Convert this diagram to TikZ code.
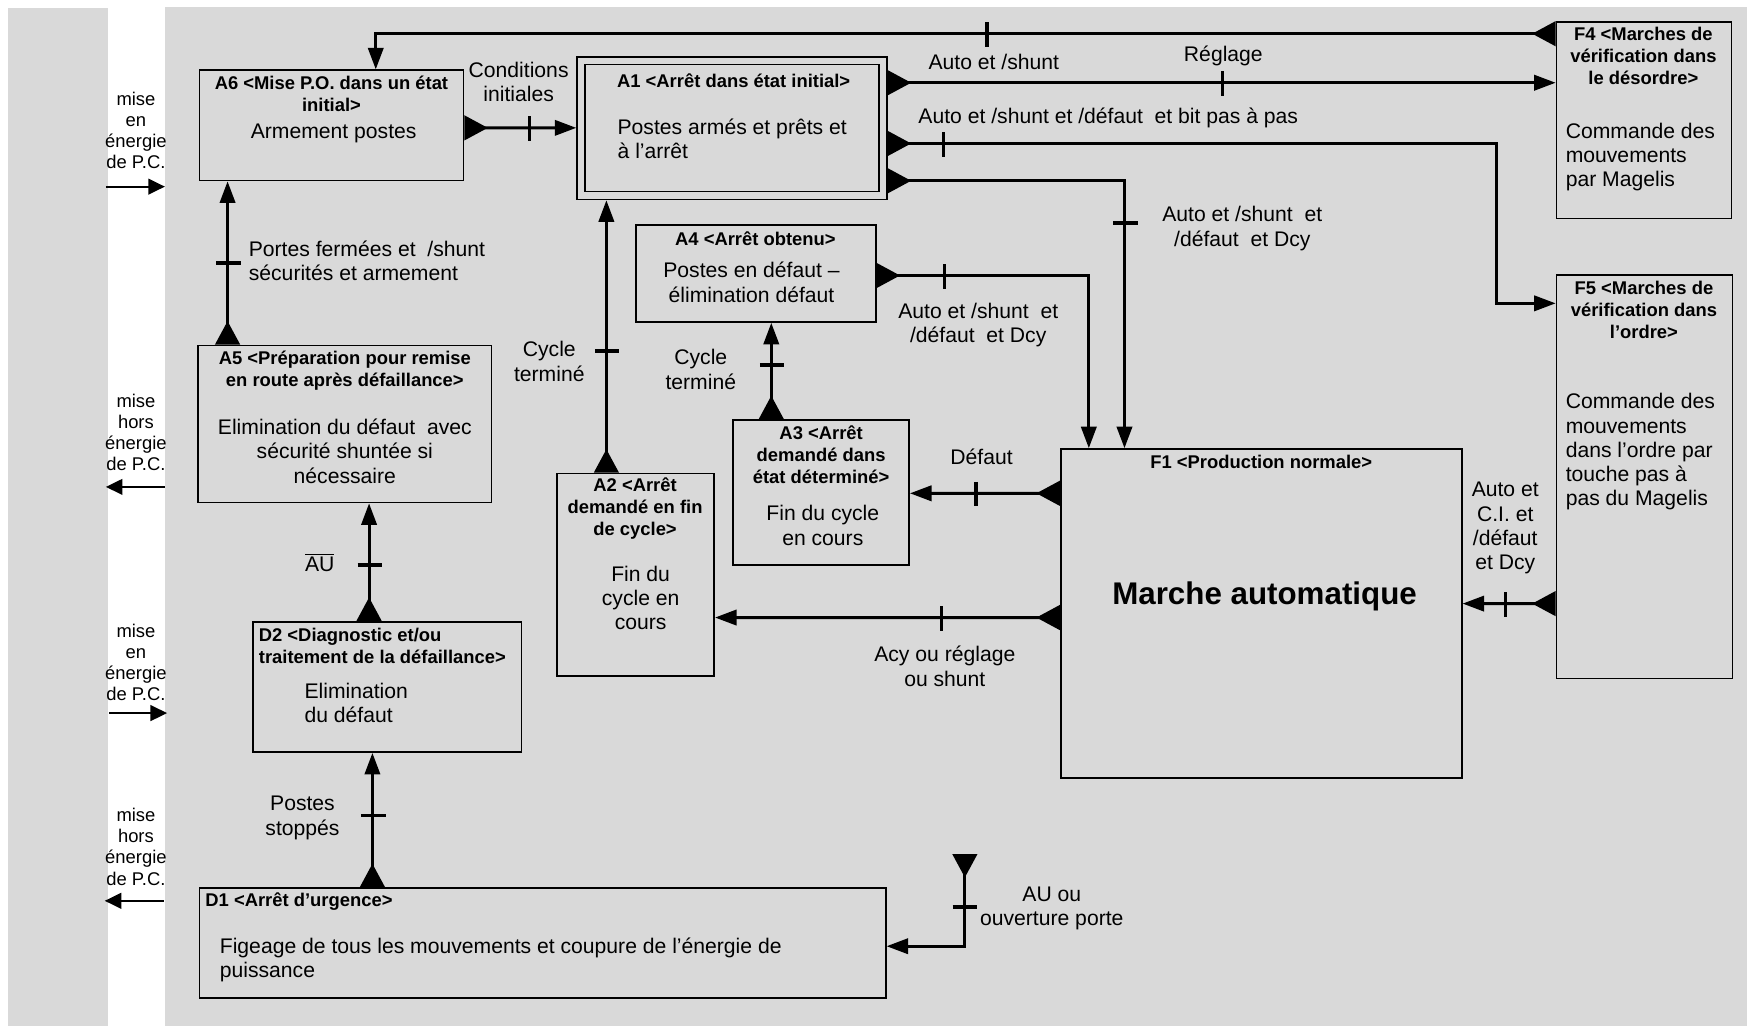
\documentclass[tikz,border=0pt]{standalone}
\usepackage{fontspec}
\setmainfont{Liberation Sans}
\usetikzlibrary{arrows.meta,calc,fit}
\definecolor{fond}{RGB}{217,217,217}
\newcommand{\trh}[1]{\foreach \x/\y in {#1} \draw[tiret] (\x,\y-11) -- (\x,\y+11);}
\newcommand{\trv}[1]{\foreach \x/\y in {#1} \draw[tiret] (\x-11,\y) -- (\x+11,\y);}

\begin{document}
\begin{tikzpicture}[x=0.02cm, y=-0.02cm,
  boite/.style={draw, line width=0.85pt, inner sep=0pt},
  titre/.style={font=\bfseries\fontsize{9.4}{11.3}\selectfont, align=center, inner sep=0pt},
  texte/.style={font=\fontsize{10.8}{12.4}\selectfont, align=center, inner sep=0pt},
  note/.style={font=\fontsize{9.4}{10.8}\selectfont, align=center, inner sep=0pt},
  lien/.style={line width=1.5pt, {Triangle[reversed,length=12pt,width=12.5pt]}-{Triangle[length=11pt,width=7.8pt]}},
  tiret/.style={line width=1.7pt},
  fleche/.style={line width=1.1pt, -{Triangle[length=8.5pt,width=8pt]}}]
  \useasboundingbox (0,0) rectangle (1568,921);
  \fill[fond] (7,7) rectangle (97,921);
  \fill[fond] (148,6) rectangle (1568,921);

  % etats
  \node[boite, fit={(179,63) (416,162)}]   (A6) {};
  \node[boite, fit={(518,51) (796,179)}]   (A1) {};
  \node[boite, fit={(525,58) (789,172)}]   (A1i) {};
  \node[boite, fit={(1397,20) (1554,196)}] (F4) {};
  \node[boite, fit={(1397,247) (1555,609)}] (F5) {};
  \node[boite, fit={(571,202) (786,289)}]  (A4) {};
  \node[boite, fit={(178,310) (441,451)}]  (A5) {};
  \node[boite, fit={(658,377) (816,507)}]  (A3) {};
  \node[boite, fit={(500,425) (641,607)}]  (A2) {};
  \node[boite, fit={(952,403) (1312,698)}] (F1) {};
  \node[boite, fit={(227,558) (468,675)}]  (D2) {};
  \node[boite, fit={(179,797) (795,896)}]  (D1) {};

  \node[titre] at (297.5,84) {A6 <Mise P.O. dans un état\\initial>};
  \node[texte] at (299.5,119.5) {Armement postes};
  \node[titre] at (658.5,72) {A1 <Arrêt dans état initial>};
  \node[texte, anchor=west, align=left] at (554,124.5) {Postes armés et prêts et\\à l’arrêt};
  \node[titre] at (1475,50.5) {F4 <Marches de\\vérification dans\\le désordre>};
  \node[texte, anchor=west, align=left] at (1405,141) {Commande des\\mouvements\\par Magelis};
  \node[titre] at (1475.5,278) {F5 <Marches de\\vérification dans\\l’ordre>};
  \node[texte, anchor=west, align=left] at (1405,405.5) {Commande des\\mouvements\\dans l’ordre par\\touche pas à\\pas du Magelis};
  \node[titre] at (678,214) {A4 <Arrêt obtenu>};
  \node[texte] at (674.5,253.5) {Postes en défaut –\\élimination défaut};
  \node[titre] at (309.5,332.5) {A5 <Préparation pour remise\\en route après défaillance>};
  \node[texte] at (309.5,405) {Elimination du défaut~ avec\\sécurité shuntée si\\nécessaire};
  \node[titre] at (737,408) {A3 <Arrêt\\demandé dans\\état déterminé>};
  \node[texte] at (738.5,471.5) {Fin du cycle\\en cours};
  \node[titre] at (570,456.5) {A2 <Arrêt\\demandé en fin\\de cycle>};
  \node[texte] at (575,536.5) {Fin du\\cycle en\\cours};
  \node[titre] at (1132,415) {F1 <Production normale>};
  \node[font=\bfseries\fontsize{16}{19}\selectfont, inner sep=0pt] at (1135,535) {Marche automatique};
  \node[titre, anchor=west, align=left] at (232,579.5) {D2 <Diagnostic et/ou\\traitement de la défaillance>};
  \node[texte, anchor=west, align=left] at (273,631) {Elimination\\du défaut};
  \node[titre, anchor=west] at (184,809) {D1 <Arrêt d’urgence>};
  \node[texte, anchor=west, align=left] at (197,861.5) {Figeage de tous les mouvements et coupure de l’énergie de\\puissance};

  % evolutions
  \draw[lien] ($(F4.north west)+(0,11)$) -| ($(A6.north west)+(159,0)$);
  \draw[lien] ($(A1.north east)+(0,24)$) -- ($(F4.north west)+(0,55)$);
  \draw[lien] ($(A1.north east)+(0,78.5)$) -| ($(F5.north west)+(-53,26)$) -- ($(F5.north west)+(0,26)$);
  \draw[lien] ($(A1.north east)+(0,112)$) -| ($(F1.north west)+(58,0)$);
  \draw[lien] ($(A4.north east)+(0,46)$) -| ($(F1.north west)+(26,0)$);
  \draw[lien] ($(F1.north west)+(0,40.5)$) -- ($(A3.north east)+(0,66.5)$);
  \draw[lien] ($(F1.north west)+(0,152)$) -- ($(A2.north east)+(0,130)$);
  \draw[lien] ($(A2.north west)+(45,0)$) -- ($(A1.south west)+(27,0)$);
  \draw[lien] ($(A3.north west)+(35,0)$) -- ($(A4.south west)+(122,0)$);
  \draw[lien] ($(A6.north east)+(0,52.5)$) -- ($(A1.north west)+(0,64.5)$);
  \draw[lien] ($(A5.north west)+(27,0)$) -- ($(A6.south west)+(26,0)$);
  \draw[lien] ($(D2.north west)+(105,0)$) -- ($(A5.south west)+(154,0)$);
  \draw[lien] ($(D1.north west)+(156,0)$) -- ($(D2.south west)+(108,0)$);
  \draw[lien] ($(F5.north west)+(0,295.5)$) -- ($(F1.north east)+(0,139.5)$);
  \coordinate (AU) at (866,766.5);
  \draw[lien] (AU) |- ($(D1.north east)+(0,53)$);

  \trh{886/31, 1097/75, 847/129.5, 848/248, 876/443.5, 845/555, 475/115.5, 1351/542.5}
  \trv{1010/200, 545/315, 693/327.5, 205/236, 332/507, 335/732, 866/814}

  % receptivites
  \node[texte] at (892,55.5) {Auto et /shunt};
  \node[texte] at (1098,50) {Réglage};
  \node[texte, anchor=west] at (824,106) {Auto et /shunt et /défaut~ et bit pas à pas};
  \node[texte] at (1115,205) {Auto et /shunt~ et\\/défaut~ et Dcy};
  \node[texte] at (878,291.5) {Auto et /shunt~ et\\/défaut~ et Dcy};
  \node[texte] at (881,410) {Défaut};
  \node[texte] at (848,598) {Acy ou réglage\\ou shunt};
  \node[texte] at (493,324.5) {Cycle\\terminé};
  \node[texte] at (629,331.5) {Cycle\\terminé};
  \node[texte] at (465.5,73.3) {Conditions\\initiales};
  \node[texte, anchor=west, align=left] at (223,233.8) {Portes fermées et~ /shunt\\sécurités et armement};
  \node[texte] at (287,505) {$\overline{\mbox{AU}}$};
  \node[texte] at (271.5,734) {Postes\\stoppés};
  \node[texte] at (1351,474) {Auto et\\C.I. et\\/défaut\\et Dcy};
  \node[texte] at (944,815) {AU ou\\ouverture porte};

  % alimentation P.C.
  \node[note] (n1) at (122,117.3) {mise\\en\\énergie\\de P.C.};
  \node[note] (n2) at (122,388) {mise\\hors\\énergie\\de P.C.};
  \node[note] (n3) at (122,594.6) {mise\\en\\énergie\\de P.C.};
  \node[note] (n4) at (122,760) {mise\\hors\\énergie\\de P.C.};
  \coordinate (n1a) at (95,167.5);  \coordinate (n1b) at (148,167.5);
  \coordinate (n2a) at (148,437);   \coordinate (n2b) at (95,437);
  \coordinate (n3a) at (98,640);    \coordinate (n3b) at (150,640);
  \coordinate (n4a) at (147,808.5); \coordinate (n4b) at (94,808.5);
  \draw[fleche] (n1a) -- (n1b);
  \draw[fleche] (n2a) -- (n2b);
  \draw[fleche] (n3a) -- (n3b);
  \draw[fleche] (n4a) -- (n4b);
\end{tikzpicture}
\end{document}
